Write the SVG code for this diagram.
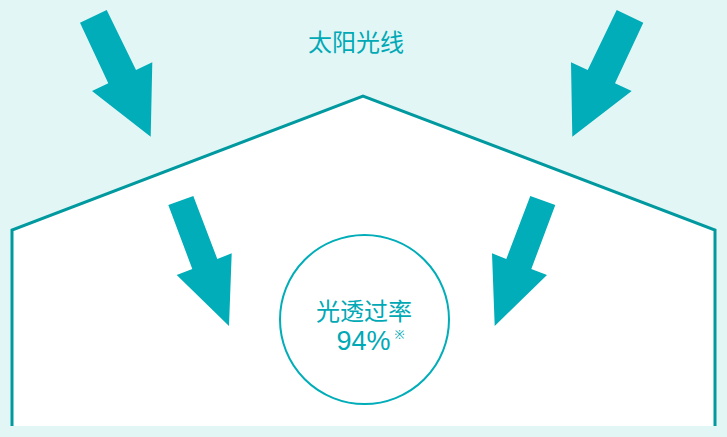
<svg xmlns="http://www.w3.org/2000/svg" width="727" height="437" viewBox="0 0 727 437">
<style>
.arrow{fill:#00adb8}
.lbl{font-family:"Noto Sans","Noto Sans CJK SC",sans-serif;fill:#00a9b5;text-anchor:middle}
.num{font-family:"Liberation Sans","Noto Sans CJK SC",sans-serif;fill:#00a9b5;text-anchor:middle}
</style>
<rect width="727" height="437" fill="#e3f6f6"/>
<g id="house">
<path d="M12,426 V230 L363,96 L715,230 V426 Z" fill="#ffffff" stroke="none"/>
<path d="M12,426 V230 L363,96 L715,230 V426" fill="none" stroke="#00999f" stroke-width="3"/>
</g>
<g id="arrows">
<polygon class="arrow" points="80,22.7 106.7,10 136,70 152.3,62.3 150.7,136.7 92,91 108.3,83.3"/>
<polygon class="arrow" points="643.3,22.7 616.7,10 587.7,70 571,62.3 572.3,136.7 631.7,91 615,83.3"/>
<polygon class="arrow" points="168.3,205 193.3,196 217.3,259 231.7,253.3 229,326 176.7,275 192.3,269"/>
<polygon class="arrow" points="555.3,205 530.3,196 506.3,259 492,253.3 494.7,326 547,275 531.3,269"/>
</g>
<g id="sunlight">
<text class="lbl" x="356" y="51" font-size="24">太阳光线</text>
</g>
<g id="transmittance">
<circle cx="364.5" cy="319.5" r="84.5" fill="none" stroke="#00adb8" stroke-width="2"/>
<text class="lbl" x="364" y="320" font-size="24">光透过率</text>
<text class="num" x="363.5" y="350" font-size="27">94%</text>
<text class="lbl" x="399.5" y="339" font-size="12">※</text>
</g>
</svg>
